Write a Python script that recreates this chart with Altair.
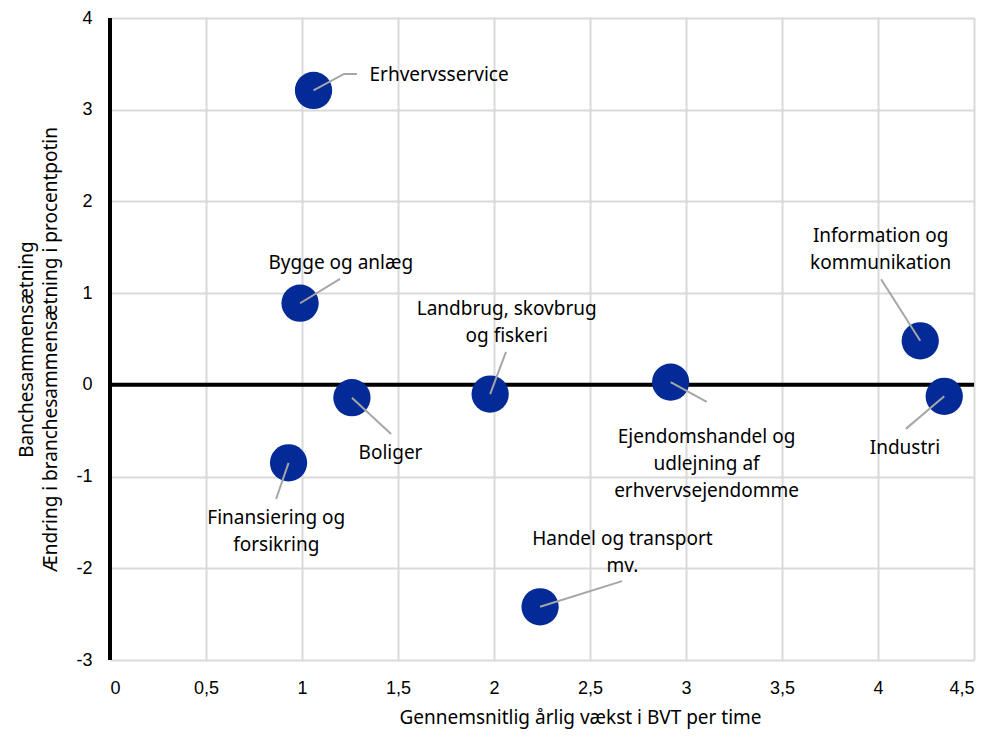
import altair as alt
import pandas as pd

# --- data ---
sectors = [
    "Erhvervsservice",
    "Bygge og anlæg",
    "Landbrug, skovbrug og fiskeri",
    "Boliger",
    "Finansiering og forsikring",
    "Handel og transport mv.",
    "Ejendomshandel og udlejning af erhvervsejendomme",
    "Information og kommunikation",
    "Industri",
]
growth = [1.06, 0.99, 1.98, 1.26, 0.93, 2.24, 2.92, 4.22, 4.345]
change = [3.21, 0.89, -0.10, -0.14, -0.85, -2.42, 0.03, 0.48, -0.125]

# label text (with line breaks as in the reference)
label_text = [
    "Erhvervsservice",
    "Bygge og anlæg",
    "Landbrug, skovbrug\nog fiskeri",
    "Boliger",
    "Finansiering og\nforsikring",
    "Handel og transport\nmv.",
    "Ejendomshandel og\nudlejning af\nerhvervsejendomme",
    "Information og\nkommunikation",
    "Industri",
]
# label anchor (data units, centre of the first text line)
label_x = [1.714, 1.202, 2.066, 1.461, 0.866, 2.669, 3.107, 4.014, 4.14]
label_y = [3.376, 1.33, 0.828, -0.742, -1.455, -1.68, -0.568, 1.627, -0.688]
# leader line end points (data units); Erhvervsservice has an extra knee
leader_end_x = [1.286, 1.198, 2.0625, 1.464, 0.865, 2.667, 3.108, 4.016, 4.145]
leader_end_y = [3.39, 1.155, 0.359, -0.535, -1.245, -2.14, -0.186, 1.152, -0.48]
knee_sector = "Erhvervsservice"
knee_x = 1.219
knee_y = 3.39

x_ticks = [0, 0.5, 1, 1.5, 2, 2.5, 3, 3.5, 4, 4.5]
y_ticks = [-3, -2, -1, 0, 1, 2, 3, 4]

FONT = "Noto Sans"
TICKFONT = "Liberation Sans"
BLUE = "#032a96"

points = pd.DataFrame({"sector": sectors, "x": growth, "y": change})
labels = pd.DataFrame({"sector": sectors, "text": label_text, "x": label_x, "y": label_y})

rows = []
for s, gx, gy, ex, ey in zip(sectors, growth, change, leader_end_x, leader_end_y):
    rows.append({"sector": s, "x": gx, "y": gy, "o": 0})
    if s == knee_sector:
        rows.append({"sector": s, "x": knee_x, "y": knee_y, "o": 1})
    rows.append({"sector": s, "x": ex, "y": ey, "o": 2})
leaders = pd.DataFrame(rows)

xscale = alt.Scale(domain=[0, 4.5], nice=False, zero=False)
yscale = alt.Scale(domain=[-3, 4], nice=False, zero=False)

xaxis = alt.Axis(
    values=x_ticks,
    labelExpr="replace(toString(datum.value), '.', ',')",
    title="Gennemsnitlig årlig vækst i BVT per time",
    domain=False, ticks=False,
    grid=True, gridColor="#d9d9d9", gridWidth=2,
    labelFont=TICKFONT, labelFontSize=18, labelColor="#000000", labelPadding=19,
    titleFont=FONT, titleFontSize=19, titleFontWeight="normal", titleColor="#000000",
    titleX=470, titleY=57, titleBaseline="middle",
)
yaxis = alt.Axis(
    values=y_ticks,
    labelExpr="toString(datum.value)",
    title=["Banchesammensætning", "Ændring i branchesammensætning i procentpotin"],
    domain=False, ticks=False,
    grid=True, gridColor="#d9d9d9", gridWidth=2,
    labelFont=TICKFONT, labelFontSize=18, labelColor="#000000", labelPadding=18,
    titleFont=FONT, titleFontSize=19, titleFontWeight="normal", titleColor="#000000",
    titleAngle=-90, titleAlign="center", titleBaseline="top", titleLineHeight=24,
    titleX=-93, titleY=331,
)

base_rule = pd.DataFrame({"v": [0]})

x_zero = alt.Chart(base_rule).mark_rule(color="#000000", strokeWidth=4).encode(
    x=alt.X("v:Q", scale=xscale, axis=xaxis)
)
y_zero = alt.Chart(base_rule).mark_rule(color="#000000", strokeWidth=4).encode(
    y=alt.Y("v:Q", scale=yscale, axis=yaxis)
)

circles = alt.Chart(points).mark_circle(size=1390, color=BLUE, opacity=1).encode(
    x=alt.X("x:Q", scale=xscale, axis=xaxis),
    y=alt.Y("y:Q", scale=yscale, axis=yaxis),
)

lines = alt.Chart(leaders).mark_line(color="#a6a6a6", strokeWidth=2).encode(
    x=alt.X("x:Q", scale=xscale, axis=xaxis),
    y=alt.Y("y:Q", scale=yscale, axis=yaxis),
    detail="sector:N",
    order="o:Q",
)

texts = alt.Chart(labels).mark_text(
    font=FONT, fontSize=19, color="#000000", align="center", baseline="middle",
    lineBreak="\n", lineHeight=27,
).encode(
    x=alt.X("x:Q", scale=xscale, axis=xaxis),
    y=alt.Y("y:Q", scale=yscale, axis=yaxis),
    text="text:N",
)

chart = alt.layer(x_zero, y_zero, circles, lines, texts).properties(
    width=864, height=642,
    autosize=alt.AutoSizeParams(type="none"),
    padding={"left": 102, "top": 10, "right": 24, "bottom": 71},
    background="#ffffff",
).configure_view(stroke=None)

chart.save("out.html", embed_options={"renderer": "svg", "actions": False})
